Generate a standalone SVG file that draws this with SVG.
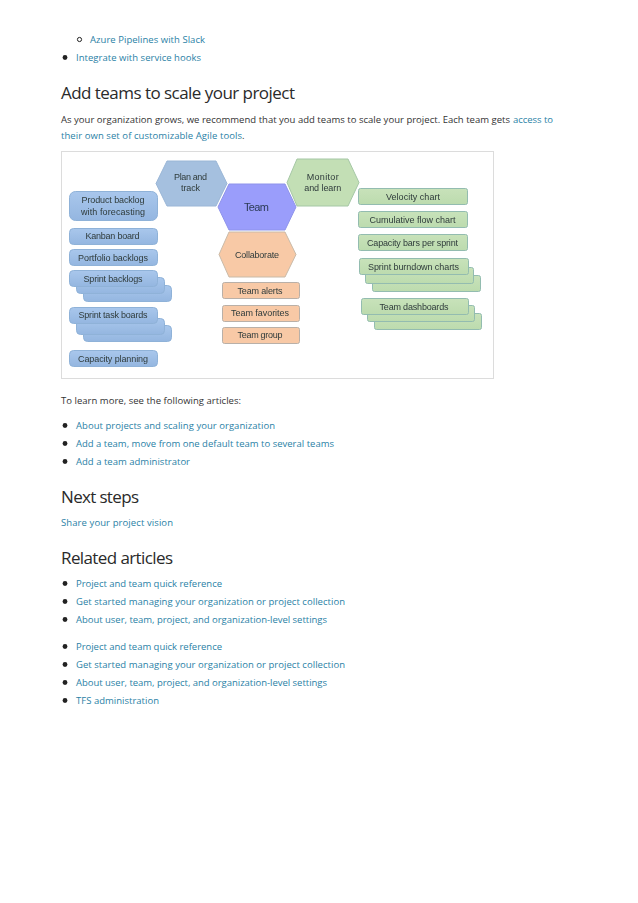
<svg xmlns="http://www.w3.org/2000/svg" width="638" height="903" viewBox="0 0 638 903">
<style>
text{font-family:"Open Sans","Noto Sans","Liberation Sans",sans-serif}
.b{font-size:9.500px;fill:#333}
.l{font-size:9.500px;fill:#2a7fa6}
.h{font-size:17px;fill:#2a2a2a}
.d{font-family:"Liberation Sans",Arial,sans-serif;font-size:9px;fill:#2f3b3b;text-anchor:middle}
.n{font-family:"Liberation Sans",Arial,sans-serif;font-size:11px;fill:#2b3a55;text-anchor:middle}
.blue{fill:url(#gb);stroke:#8fb2d8;stroke-width:1}
.green{fill:url(#gg);stroke:#93bcb0;stroke-width:1}
.org{fill:#f8c9a6;stroke:#b9b0a8;stroke-width:1}
.dot{fill:#222}
</style>
<defs>
<filter id="soft" x="-2%" y="-2%" width="104%" height="104%"><feGaussianBlur stdDeviation="0.3"/></filter>
<linearGradient id="gb" x1="0" y1="0" x2="0" y2="1"><stop offset="0" stop-color="#a9c7ec"/><stop offset="1" stop-color="#94b6e0"/></linearGradient>
<linearGradient id="gg" x1="0" y1="0" x2="0" y2="1"><stop offset="0" stop-color="#c8e2ba"/><stop offset="1" stop-color="#bcdbae"/></linearGradient>
</defs>
<rect width="638" height="903" fill="#fff"/>

<g id="page-top">
<circle cx="79.500" cy="39.500" r="2.100" fill="none" stroke="#222" stroke-width="1"/>
<text class="l" x="90" y="43" textLength="115">Azure Pipelines with Slack</text>
<circle class="dot" cx="65" cy="57.500" r="2.400"/>
<text class="l" x="76" y="61" textLength="125">Integrate with service hooks</text>
<text class="h" x="61" y="99" textLength="234">Add teams to scale your project</text>
<text class="b" x="61" y="123" textLength="449">As your organization grows, we recommend that you add teams to scale your project. Each team gets</text>
<text class="l" x="513" y="123" textLength="40">access to</text>
<text class="l" x="61" y="139" textLength="181">their own set of customizable Agile tools</text>
<text class="b" x="242" y="139">.</text>
</g>

<rect id="figure-frame" x="61.500" y="151.500" width="432" height="227" fill="#fff" stroke="#dcdcdc" stroke-width="1"/>

<g id="figure" filter="url(#soft)">
<g id="plan-and-track"><polygon fill="#a5c0df" stroke="#9ab6d6" points="156,183.500 167,161 216,161 227,183.500 216,206 167,206"/><text class="d" x="190.500" y="180" textLength="33">Plan and</text><text class="d" x="190.500" y="191" textLength="19">track</text></g>
<g id="monitor-and-learn"><polygon fill="#c3dfb5" stroke="#a5c7a5" points="287,182.500 297,159 348,159 359,182.500 348,206 297,206"/><text class="d" x="322.700" y="180" textLength="32">Monitor</text><text class="d" x="322.700" y="191" textLength="37">and learn</text></g>
<g id="team"><polygon fill="#9a9dfb" stroke="#8e93ea" points="218,207 229,184 285,184 296,207 285,230 229,230"/><text class="n" x="256.500" y="211" textLength="25">Team</text></g>
<g id="collaborate"><polygon fill="#f8c9a6" stroke="#c9baa8" points="219,254.500 229,232 285,232 296,254.500 285,277 229,277"/><text class="d" x="257" y="258" textLength="44">Collaborate</text></g>

<g id="product-backlog"><rect class="blue" x="69.500" y="191.500" width="88" height="29" rx="6"/><text class="d" x="113" y="203" textLength="63">Product backlog</text><text class="d" x="113" y="214.500" textLength="64">with forecasting</text></g>
<g id="kanban-board"><rect class="blue" x="69.500" y="228.500" width="88" height="16" rx="4"/><text class="d" x="112.500" y="239" textLength="54">Kanban board</text></g>
<g id="portfolio-backlogs"><rect class="blue" x="69.500" y="249.500" width="88" height="16" rx="4"/><text class="d" x="113" y="260.500" textLength="70">Portfolio backlogs</text></g>
<g id="sprint-backlogs"><rect class="blue" x="83.500" y="285.500" width="88" height="16" rx="4"/><rect class="blue" x="76.500" y="277.500" width="88" height="16" rx="4"/><rect class="blue" x="69.500" y="270.500" width="88" height="16" rx="4"/><text class="d" x="113" y="281.500" textLength="59">Sprint backlogs</text></g>
<g id="sprint-task-boards"><rect class="blue" x="83.500" y="325.500" width="88" height="16" rx="4"/><rect class="blue" x="76.500" y="318.500" width="88" height="16" rx="4"/><rect class="blue" x="69.500" y="307.500" width="88" height="16" rx="4"/><text class="d" x="113" y="318" textLength="69">Sprint task boards</text></g>
<g id="capacity-planning"><rect class="blue" x="69.500" y="350.500" width="88" height="16" rx="4"/><text class="d" x="113" y="361.500" textLength="70">Capacity planning</text></g>

<g id="team-alerts"><rect class="org" x="222.500" y="282.500" width="77" height="16" rx="2"/><text class="d" x="260" y="294" textLength="45">Team alerts</text></g>
<g id="team-favorites"><rect class="org" x="222.500" y="305.500" width="77" height="16" rx="2"/><text class="d" x="260" y="316" textLength="58">Team favorites</text></g>
<g id="team-group"><rect class="org" x="222.500" y="327.500" width="77" height="16" rx="2"/><text class="d" x="260" y="338" textLength="45">Team group</text></g>

<g id="velocity-chart"><rect class="green" x="358.500" y="188.500" width="109" height="16" rx="2"/><text class="d" x="413" y="200" textLength="54">Velocity chart</text></g>
<g id="cumulative-flow-chart"><rect class="green" x="358.500" y="211.500" width="109" height="16" rx="2"/><text class="d" x="412.500" y="223" textLength="86">Cumulative flow chart</text></g>
<g id="capacity-bars"><rect class="green" x="358.500" y="234.500" width="109" height="16" rx="2"/><text class="d" x="412.500" y="245.500" textLength="91">Capacity bars per sprint</text></g>
<g id="sprint-burndown-charts"><rect class="green" x="372.500" y="275.500" width="108" height="16" rx="2"/><rect class="green" x="365.500" y="267.500" width="108" height="16" rx="2"/><rect class="green" x="359.500" y="258.500" width="109" height="16" rx="2"/><text class="d" x="413.500" y="269.500" textLength="91">Sprint burndown charts</text></g>
<g id="team-dashboards"><rect class="green" x="374.500" y="313.500" width="107" height="16" rx="2"/><rect class="green" x="367.500" y="305.500" width="107" height="16" rx="2"/><rect class="green" x="361.500" y="298.500" width="107" height="16" rx="2"/><text class="d" x="414" y="310" textLength="69">Team dashboards</text></g>
</g>

<g id="page-bottom">
<text class="b" x="61" y="404" textLength="180">To learn more, see the following articles:</text>
<circle class="dot" cx="65" cy="425.500" r="2.400"/><text class="l" x="76" y="429" textLength="199">About projects and scaling your organization</text>
<circle class="dot" cx="65" cy="443.500" r="2.400"/><text class="l" x="76" y="447" textLength="258">Add a team, move from one default team to several teams</text>
<circle class="dot" cx="65" cy="461.500" r="2.400"/><text class="l" x="76" y="465" textLength="114">Add a team administrator</text>
<text class="h" x="61" y="503" textLength="78">Next steps</text>
<text class="l" x="61" y="526" textLength="112">Share your project vision</text>
<text class="h" x="61" y="564" textLength="112">Related articles</text>
<circle class="dot" cx="65" cy="583.500" r="2.400"/><text class="l" x="76" y="587" textLength="146">Project and team quick reference</text>
<circle class="dot" cx="65" cy="601.500" r="2.400"/><text class="l" x="76" y="605" textLength="269">Get started managing your organization or project collection</text>
<circle class="dot" cx="65" cy="619.500" r="2.400"/><text class="l" x="76" y="623" textLength="251">About user, team, project, and organization-level settings</text>
<circle class="dot" cx="65" cy="646.500" r="2.400"/><text class="l" x="76" y="650" textLength="146">Project and team quick reference</text>
<circle class="dot" cx="65" cy="664.500" r="2.400"/><text class="l" x="76" y="668" textLength="269">Get started managing your organization or project collection</text>
<circle class="dot" cx="65" cy="682.500" r="2.400"/><text class="l" x="76" y="686" textLength="251">About user, team, project, and organization-level settings</text>
<circle class="dot" cx="65" cy="700.500" r="2.400"/><text class="l" x="76" y="704" textLength="83">TFS administration</text>
</g>
</svg>
